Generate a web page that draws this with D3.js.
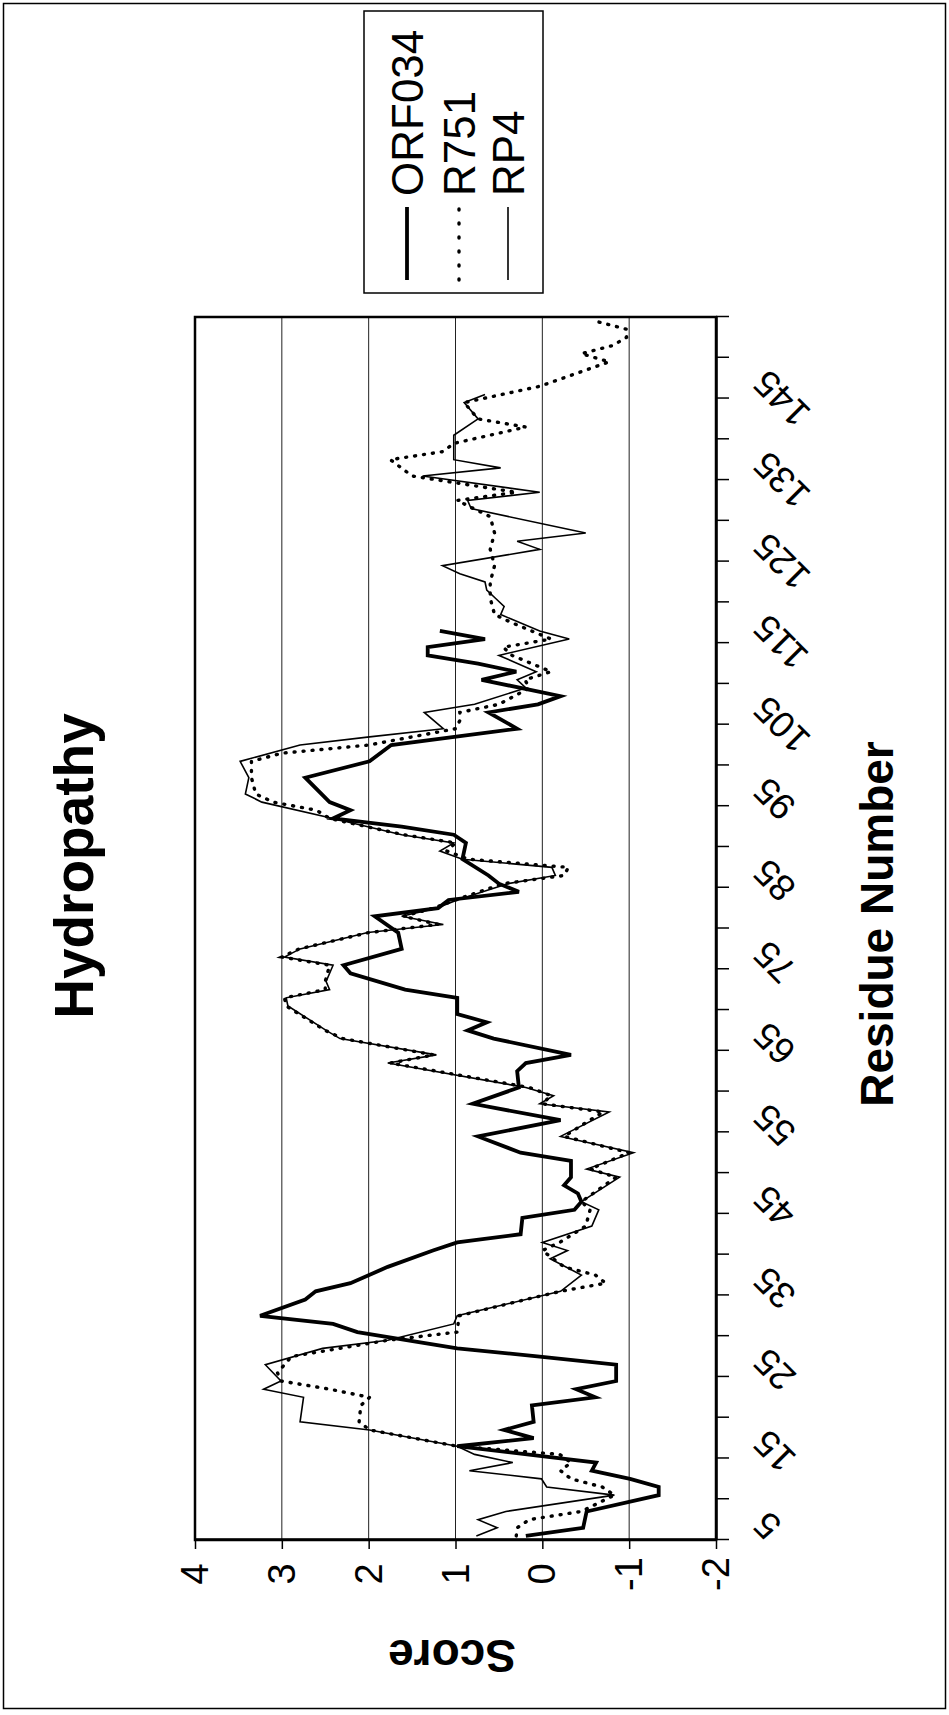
<!DOCTYPE html>
<html>
<head>
<meta charset="utf-8">
<script src="https://cdn.jsdelivr.net/npm/d3@7"></script>
<style>
	body { margin: 0; background: #fff; }
	svg { display: block; font-family: "Liberation Sans", Arial, sans-serif; }
</style>
</head>
<body>
<svg id="chart" width="949" height="1715"></svg>
<script>
// values: residue number -> hydropathy score (vertices of each trace)
var orfRes = [5,6,8,10,11,12,13,14,16,17,18,19,21,22,23,24,26,27,28,30,31,32,34,35,36,38,40,41,42,44,45,46,47,48,49,51,52,54,56,58,60,62,63,64,66,67,68,69,71,72,74,75,77,79,81,82,83,84,85,86,88,90,91,92,93,94,95,98,100,102,104,106,107,108,110,111,112,113,114,115,116];
var orfScore = [0.19,-0.47,-0.51,-1.34,-1.34,-1.01,-0.57,-0.62,0.98,0.10,0.44,0.10,0.12,-0.61,-0.39,-0.85,-0.85,0.03,0.98,2.13,2.41,3.25,2.73,2.61,2.21,1.78,1.26,0.98,0.25,0.23,-0.37,-0.45,-0.41,-0.25,-0.33,-0.33,0.25,0.74,-0.21,0.80,0.27,0.29,0.19,-0.33,0.56,0.86,0.64,0.98,0.98,1.58,2.21,2.29,1.62,1.66,1.93,1.20,1.08,0.27,0.50,0.62,0.92,0.88,1.02,1.62,2.41,2.21,2.45,2.73,1.99,1.74,0.29,0.62,0.05,-0.21,0.70,0.30,0.74,1.32,1.32,0.66,1.18];

var r751Res = [5,6,7,8,10,11,12,13,14,15,16,18,19,21,22,23,24,25,27,29,30,32,34,35,36,37,38,40,41,43,45,46,49,50,52,54,57,58,59,60,63,64,66,67,70,71,72,73,75,76,77,79,80,81,82,83,85,86,87,88,89,90,91,93,94,95,96,98,100,101,102,104,105,106,107,109,110,111,113,114,115,117,118,120,122,124,126,128,130,132,133,135,137,138,139,141,142,144,146,149,150,151,152,153,154];
var r751Score = [0.30,0.29,0.15,-0.45,-0.83,-0.69,-0.33,-0.21,-0.33,-0.20,0.98,1.99,2.11,2.09,1.99,2.45,3.01,3.05,2.89,1.78,0.98,0.96,0.19,-0.21,-0.73,-0.61,-0.25,0.0,-0.20,-0.50,-0.55,-0.45,-0.85,-0.55,-1.00,-0.25,-0.70,0.00,-0.10,0.15,1.75,1.25,2.30,2.50,2.95,2.97,2.50,2.50,2.45,3.00,2.80,2.00,1.20,1.60,1.25,1.00,0.45,-0.25,-0.30,0.85,1.10,1.00,1.60,2.45,2.60,3.10,3.30,3.35,3.35,3.00,2.00,1.00,0.95,0.95,0.50,0.15,0.20,-0.10,0.35,0.45,-0.10,0.35,0.55,0.60,0.60,0.55,0.60,0.55,0.60,0.98,0.30,1.50,1.75,1.14,1.02,0.19,0.74,0.90,0.03,-0.77,-0.45,-0.81,-0.97,-0.97,-0.61];

var rp4Res = [5,6,7,8,10,11,12,13,14,15,16,18,19,22,23,24,26,28,29,31,32,35,37,39,40,41,43,45,46,49,50,52,54,57,58,59,60,63,64,66,67,70,71,72,73,75,76,77,79,80,81,82,83,85,86,87,88,89,90,91,93,95,96,98,100,102,103,104,106,107,109,110,111,113,115,116,118,119,120,121,122,123,124,126,127,128,131,132,133,135,136,137,140,142,144,145];
var rp4Score = [0.76,0.52,0.74,0.42,-0.83,-0.05,0.01,0.84,0.34,0.78,0.98,1.99,2.79,2.75,3.21,3.01,3.19,2.53,1.78,1.02,0.98,-0.21,-0.45,-0.09,-0.29,0.0,-0.57,-0.65,-0.45,-0.89,-0.51,-1.05,-0.21,-0.77,0.03,-0.13,0.19,1.78,1.22,2.33,2.49,2.93,2.95,2.45,2.49,2.41,2.97,2.79,2.01,1.14,1.62,1.22,0.98,0.40,-0.15,-0.11,0.92,1.18,1.02,1.62,2.41,3.23,3.42,3.38,3.48,2.79,1.99,1.14,1.36,0.78,0.19,0.29,0.07,0.50,-0.31,0.03,0.48,0.44,0.54,0.64,0.66,0.95,1.15,0.03,0.29,-0.50,0.82,0.86,0.03,1.38,0.48,1.02,1.02,0.74,0.90,0.66];

var seriesNames = ['ORF034', 'R751', 'RP4'];
var scoreTicks = [4, 3, 2, 1, 0, -1, -2];
var gridScores = [3, 2, 1, 0, -1];
var residueLabels = [5, 15, 25, 35, 45, 55, 65, 75, 85, 95, 105, 115, 125, 135, 145];
var firstResidue = 5, lastResidue = 154;

var W = 949, H = 1715;
var svg = d3.select('#chart');

// page frame
svg.append('rect')
	.attr('x', 3.5).attr('y', 3.5)
	.attr('width', 942).attr('height', 1705)
	.attr('fill', 'none').attr('stroke', '#000').attr('stroke-width', 1.5);

// the chart lies on its side: draw it upright, then turn the whole group
var g = svg.append('g').attr('transform', 'translate(0,' + H + ') rotate(-90)');

var x0 = 175, x1 = 1398, y0 = 195, y1 = 716;
var x = d3.scaleLinear().domain([firstResidue - 0.5, lastResidue + 0.5]).range([x0, x1]);
var y = d3.scaleLinear().domain([4, -2]).range([y0, y1]);

// gridlines
g.selectAll('.grid').data(gridScores).enter().append('line')
	.attr('x1', x0).attr('x2', x1)
	.attr('y1', function (d) { return y(d); })
	.attr('y2', function (d) { return y(d); })
	.attr('stroke', '#222').attr('stroke-width', 1);

// category axis: tick marks between every 5 residues
var catTicks = d3.range(firstResidue - 0.5, lastResidue + 1, 5);
var xAxis = g.append('g')
	.attr('transform', 'translate(0,' + y1 + ')')
	.call(d3.axisBottom(x).tickValues(catTicks).tickSize(13).tickSizeOuter(0).tickFormat(''));
xAxis.selectAll('line').attr('stroke-width', 1.5);
xAxis.select('.domain').attr('stroke-width', 2.5);

g.selectAll('.rlab').data(residueLabels).enter().append('text')
	.attr('transform', function (d) { return 'translate(' + (x(d) + 18) + ',760) rotate(-45)'; })
	.attr('text-anchor', 'end')
	.attr('dominant-baseline', 'central')
	.attr('font-size', 37)
	.text(function (d) { return d; });

// score axis
var yAxis = g.append('g')
	.attr('transform', 'translate(' + x0 + ',0)')
	.call(d3.axisLeft(y).tickValues(scoreTicks).tickSize(9).tickSizeOuter(0).tickFormat(''));
yAxis.selectAll('line').attr('stroke-width', 1.5);
yAxis.select('.domain').attr('stroke-width', 2.5);

g.selectAll('.slab').data(scoreTicks).enter().append('text')
	.attr('x', 141)
	.attr('y', function (d) { return y(d); })
	.attr('text-anchor', 'middle')
	.attr('dominant-baseline', 'central')
	.attr('font-size', 38)
	.text(function (d) { return d; });

// plot frame
g.append('rect')
	.attr('x', x0).attr('y', y0)
	.attr('width', x1 - x0).attr('height', y1 - y0)
	.attr('fill', 'none').attr('stroke', '#000').attr('stroke-width', 2.5);

// traces
var line = d3.line()
	.x(function (d) { return x(d[0]); })
	.y(function (d) { return y(d[1]); });

var styles = [
	{width: 3.8, dash: null, cap: 'butt'},
	{width: 3.4, dash: '1,8', cap: 'round'},
	{width: 1.6, dash: null, cap: 'butt'}
];
var traces = [d3.zip(orfRes, orfScore), d3.zip(r751Res, r751Score), d3.zip(rp4Res, rp4Score)];

// draw thin one first so the heavy line sits on top
[2, 1, 0].forEach(function (i) {
	g.append('path')
		.datum(traces[i])
		.attr('d', line)
		.attr('fill', 'none')
		.attr('stroke', '#000')
		.attr('stroke-width', styles[i].width)
		.attr('stroke-dasharray', styles[i].dash)
		.attr('stroke-linecap', styles[i].cap)
		.attr('stroke-linejoin', 'miter');
});

// titles
g.append('text')
	.attr('x', 849).attr('y', 74)
	.attr('text-anchor', 'middle').attr('dominant-baseline', 'central')
	.attr('font-size', 55).attr('font-weight', 'bold')
	.text('Hydropathy');

g.append('text')
	.attr('x', 791).attr('y', 877)
	.attr('text-anchor', 'middle').attr('dominant-baseline', 'central')
	.attr('font-size', 46).attr('font-weight', 'bold')
	.text('Residue Number');

g.append('text')
	.attr('transform', 'translate(59,452) rotate(-90)')
	.attr('text-anchor', 'middle').attr('dominant-baseline', 'central')
	.attr('font-size', 46).attr('font-weight', 'bold')
	.text('Score');

// legend
var legend = g.append('g');
legend.append('rect')
	.attr('x', 1422).attr('y', 364)
	.attr('width', 282).attr('height', 179)
	.attr('fill', '#fff').attr('stroke', '#000').attr('stroke-width', 1.5);

var legendY = [407, 459, 508];
seriesNames.forEach(function (name, i) {
	legend.append('line')
		.attr('x1', 1435).attr('x2', 1508)
		.attr('y1', legendY[i]).attr('y2', legendY[i])
		.attr('stroke', '#000')
		.attr('stroke-width', styles[i].width)
		.attr('stroke-dasharray', i === 1 ? '1,13' : styles[i].dash)
		.attr('stroke-linecap', styles[i].cap);
	legend.append('text')
		.attr('x', 1519).attr('y', legendY[i])
		.attr('dominant-baseline', 'central')
		.attr('font-size', 44)
		.text(name);
});
</script>
</body>
</html>
